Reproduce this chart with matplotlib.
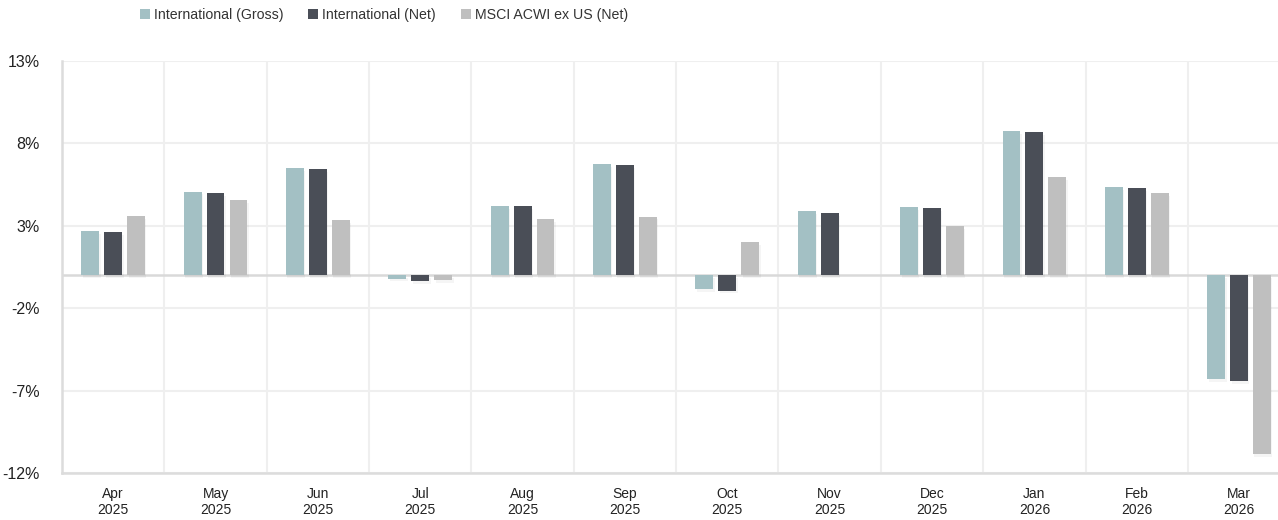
import numpy as np
import matplotlib
matplotlib.use("Agg")
from matplotlib import pyplot as plt
from matplotlib.patches import Patch
import matplotlib.patheffects as pe

months = ["Apr\n2025", "May\n2025", "Jun\n2025", "Jul\n2025", "Aug\n2025", "Sep\n2025",
          "Oct\n2025", "Nov\n2025", "Dec\n2025", "Jan\n2026", "Feb\n2026", "Mar\n2026"]
intl_gross = [2.69, 5.08, 6.52, -0.2, 4.2, 6.74, -0.85, 3.87, 4.15, 8.76, 5.35, -6.31]
intl_net = [2.63, 4.98, 6.45, -0.35, 4.18, 6.66, -0.93, 3.77, 4.07, 8.68, 5.28, -6.41]
msci_acwi = [3.6, 4.55, 3.36, -0.3, 3.42, 3.56, 1.99, 0.0, 2.98, 5.95, 4.98, -10.84]

series_names = ["International (Gross)", "International (Net)", "MSCI ACWI ex US (Net)"]
colors = ["#a3c0c4", "#4a4e57", "#bfbfbf"]
yticks = [13, 8, 3, -2, -7, -12]

plt.rcParams["font.family"] = ["Liberation Sans", "DejaVu Sans"]

fig = plt.figure(figsize=(12.78, 5.2), dpi=100)
ax = fig.add_axes([62 / 1278, 47 / 520, 1216 / 1278, 412 / 520])

x = np.arange(len(months))
width = 0.175
step = 0.224
shadow = [pe.SimplePatchShadow(offset=(1, -2), shadow_rgbFace="#000000", alpha=0.04),
          pe.Normal()]
for i, (vals, col) in enumerate(zip([intl_gross, intl_net, msci_acwi], colors)):
    bars = ax.bar(x + (i - 1) * step, vals, width, color=col, zorder=3)
    for b in bars:
        b.set_path_effects(shadow)

ax.set_yticks(yticks)
ax.set_yticklabels([f"{t}%" for t in yticks])
ax.set_xticks(x)
ax.set_xticklabels(months, linespacing=1.15)
ax.set_xticks(np.arange(len(months)) + 0.5, minor=True)
# set limits after ticks, set_xticks widens the view otherwise
ax.set_ylim(-12, 13)
ax.set_xlim(-0.5, 11.38)

ax.tick_params(axis="both", length=0, colors="#222222")
ax.tick_params(axis="y", pad=16, labelsize=11.5)
ax.tick_params(axis="x", pad=10, labelsize=10)
ax.tick_params(axis="x", which="minor", length=0)

ax.grid(axis="y", which="major", color="#efefef", linewidth=1.5, zorder=0)
ax.grid(axis="x", which="minor", color="#efefef", linewidth=1.5, zorder=0)
ax.axhline(0, color="#d9d9d9", linewidth=1.8, zorder=2)

for side in ["top", "right"]:
    ax.spines[side].set_visible(False)
for side in ["left", "bottom"]:
    ax.spines[side].set_color("#dcdcdc")
    ax.spines[side].set_linewidth(1.8)

handles = [Patch(facecolor=c, edgecolor="none") for c in colors]
fig.legend(handles, series_names, loc="upper left", bbox_to_anchor=(127 / 1278, 1.01),
           ncol=3, frameon=False, fontsize=10.2, handlelength=0.7, handleheight=0.7,
           handletextpad=0.3, columnspacing=1.75, labelcolor="#333333")

fig.savefig("out.png", dpi=100)
